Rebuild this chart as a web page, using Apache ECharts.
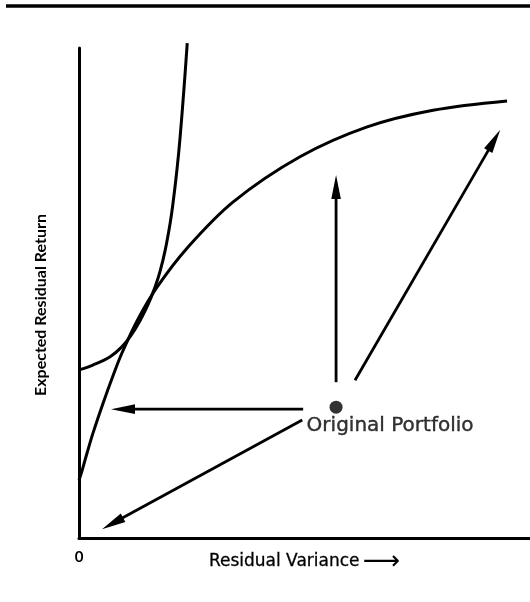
<!DOCTYPE html>
<html>
<head>
<meta charset="utf-8">
<script src="https://cdn.jsdelivr.net/npm/echarts@6/dist/echarts.min.js"></script>
<style>
  html, body { margin: 0; padding: 0; background: #fff; }
  #chart { width: 530px; height: 602px; }
</style>
</head>
<body>
<div id="chart"></div>
<script>
// both axes run 0..100 (no scale printed apart from the origin)
const frontierX = [0, 0.7, 1.8, 3.1, 5.3, 7.5, 9.5, 13.1, 17.3, 24.0, 34.2, 49.0, 63.9, 78.5, 94.9];
const frontierY = [11.8, 13.8, 17.4, 21.4, 27.4, 33.0, 37.7, 44.7, 51.2, 59.2, 68.6, 77.8, 83.9, 87.3, 89.2];

const indiffX = [0, 3.1, 6.9, 9.5, 11.5, 13.5, 15.3, 16.9, 18.0, 19.1, 20.2, 20.8, 21.7, 22.4, 23.3, 24.0];
const indiffY = [34.3, 35.3, 37.0, 39.0, 41.3, 44.3, 47.6, 51.3, 54.5, 58.7, 64.2, 68.0, 75.0, 81.6, 92.0, 101.0];

// arrows out of the original portfolio
const arrowFrom = [[57.0, 31.8], [61.2, 32.2], [49.7, 26.3], [49.5, 24.1]];
const arrowTo   = [[57.0, 74.1], [93.4, 83.3], [7.1, 26.3], [5.1, 1.8]];

const portfolio = [57.0, 26.7];
const xTickLabels = ['0'];

const chart = echarts.init(document.getElementById('chart'));

const zip = (xs, ys) => xs.map((x, i) => [x, ys[i]]);

const option = {
  animation: false,
  backgroundColor: '#fff',
  grid: { left: 79, right: 0, top: 48, bottom: 64 },
  xAxis: {
    type: 'value',
    min: 0,
    max: 100,
    interval: 100,
    axisLine: { lineStyle: { color: '#000', width: 3 } },
    axisTick: { show: false },
    splitLine: { show: false },
    axisLabel: {
      showMaxLabel: false,
      margin: 12,
      color: '#000',
      fontFamily: 'Lato',
      fontWeight: 'bold',
      fontSize: 15,
      formatter: v => (v === 0 ? xTickLabels[0] : '')
    },
    name: '{t|Residual Variance} {a|⟶}',
    nameLocation: 'middle',
    nameGap: 14,
    nameMoveOverlap: false,
    nameTextStyle: {
      rich: {
        t: { fontFamily: 'DejaVu Sans', fontSize: 17, color: '#000', lineHeight: 20, textBorderColor: '#000', textBorderWidth: 0.3 },
        a: { fontFamily: 'DejaVu Sans', fontSize: 26, color: '#000', lineHeight: 20 }
      }
    }
  },
  yAxis: {
    type: 'value',
    min: 0,
    max: 100,
    axisLine: { lineStyle: { color: '#000', width: 3 } },
    axisTick: { show: false },
    splitLine: { show: false },
    axisLabel: { show: false },
    name: 'Expected Residual Return',
    nameLocation: 'middle',
    nameGap: 30,
    nameMoveOverlap: false,
    nameTextStyle: {
      fontFamily: 'Lato',
      fontWeight: 'bold',
      fontSize: 16,
      color: '#000',
      padding: [0, 24, 0, 0]
    }
  },
  graphic: [{
    type: 'line',
    shape: { x1: 6, y1: 6, x2: 530, y2: 6 },
    style: { stroke: '#000', lineWidth: 3.5 }
  }],
  series: [
    {
      type: 'line',
      data: zip(frontierX, frontierY),
      smooth: 0.35,
      showSymbol: false,
      clip: false,
      lineStyle: { color: '#000', width: 3 }
    },
    {
      type: 'line',
      data: zip(indiffX, indiffY),
      smooth: 0.35,
      showSymbol: false,
      clip: false,
      lineStyle: { color: '#000', width: 3 }
    },
    {
      type: 'custom',
      data: arrowFrom.map((f, i) => [f[0], f[1], arrowTo[i][0], arrowTo[i][1]]),
      encode: { x: [0, 2], y: [1, 3] },
      renderItem: (params, api) => {
        const p0 = api.coord([api.value(0), api.value(1)]);
        const p1 = api.coord([api.value(2), api.value(3)]);
        const dx = p1[0] - p0[0], dy = p1[1] - p0[1];
        const len = Math.hypot(dx, dy);
        const ux = dx / len, uy = dy / len;
        const headLen = 24, headW = 4.8;
        const bx = p1[0] - ux * headLen, by = p1[1] - uy * headLen;
        return {
          type: 'group',
          children: [
            {
              type: 'line',
              shape: { x1: p0[0], y1: p0[1], x2: bx + ux * 4, y2: by + uy * 4 },
              style: { stroke: '#000', lineWidth: 2.8 }
            },
            {
              type: 'polygon',
              shape: { points: [p1, [bx - uy * headW, by + ux * headW], [bx + uy * headW, by - ux * headW]] },
              style: { fill: '#000' }
            }
          ]
        };
      }
    },
    {
      type: 'scatter',
      data: [portfolio],
      symbolSize: 13,
      itemStyle: { color: '#000' },
      label: {
        show: true,
        position: 'inside',
        offset: [54, 19],
        formatter: 'Original Portfolio',
        fontFamily: 'DejaVu Sans',
        fontSize: 20,
        color: '#000',
        textBorderColor: '#000',
        textBorderWidth: 0.4
      }
    }
  ]
};

chart.setOption(option);
</script>
</body>
</html>
